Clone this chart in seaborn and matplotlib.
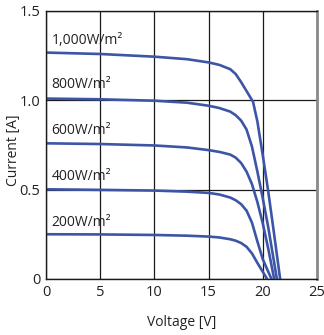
import matplotlib
matplotlib.use("Agg")
import matplotlib.pyplot as plt
import seaborn as sns
import pandas as pd

# ---- data ----
v_1000 = [0, 5, 10, 13, 15, 16, 17, 17.5, 18, 18.5, 19.1, 19.5, 20.0, 20.5, 21.0, 21.6]
i_1000 = [1.265, 1.257, 1.242, 1.228, 1.21, 1.196, 1.172, 1.145, 1.10, 1.05, 0.99, 0.88, 0.69, 0.49, 0.27, 0.0]

v_800 = [0, 5, 10, 13, 15, 16, 17, 17.5, 18, 18.5, 19.0, 19.5, 20.0, 20.5, 21.3]
i_800 = [1.008, 1.004, 0.996, 0.985, 0.968, 0.955, 0.935, 0.915, 0.885, 0.835, 0.74, 0.60, 0.45, 0.29, 0.0]

v_600 = [0, 5, 10, 13, 15, 16, 17, 17.5, 18, 18.5, 19.0, 19.5, 20.0, 20.5, 21.05]
i_600 = [0.758, 0.754, 0.746, 0.735, 0.72, 0.71, 0.695, 0.678, 0.648, 0.60, 0.53, 0.43, 0.31, 0.17, 0.0]

v_400 = [0, 5, 10, 13, 15, 16, 17, 17.5, 18, 18.5, 19.0, 19.5, 20.0, 20.8]
i_400 = [0.501, 0.498, 0.494, 0.488, 0.481, 0.472, 0.455, 0.44, 0.418, 0.382, 0.315, 0.21, 0.11, 0.0]

v_200 = [0, 5, 10, 13, 15, 16, 17, 17.5, 18, 18.5, 19.0, 19.5, 20.4]
i_200 = [0.25, 0.249, 0.246, 0.242, 0.237, 0.232, 0.222, 0.214, 0.201, 0.18, 0.143, 0.09, 0.0]

labels = ["1,000W/m²", "800W/m²", "600W/m²", "400W/m²", "200W/m²"]
label_y = [1.33, 1.085, 0.832, 0.575, 0.318]
x_ticks = [0, 5, 10, 15, 20, 25]
x_ticklabels = ["0", "5", "10", "15", "20", "25"]
y_ticks = [0, 0.5, 1.0, 1.5]
y_ticklabels = ["0", "0.5", "1.0", "1.5"]

series_v = [v_1000, v_800, v_600, v_400, v_200]
series_i = [i_1000, i_800, i_600, i_400, i_200]

frames = []
for lab, vv, ii in zip(labels, series_v, series_i):
    frames.append(pd.DataFrame({"Voltage": vv, "Current": ii, "Irradiance": lab}))
df = pd.concat(frames, ignore_index=True)

sns.set_style("white")
plt.rcParams["font.family"] = ["Open Sans", "DejaVu Sans"]

fig = plt.figure(figsize=(3.24, 3.35), dpi=100)
ax = fig.add_axes([46 / 324, 56 / 335, 271 / 324, 268.5 / 335])

line_color = "#3d55a6"
sns.lineplot(data=df, x="Voltage", y="Current", units="Irradiance", estimator=None,
             sort=False, color=line_color, linewidth=1.9, ax=ax, legend=False)

ax.set_xlim(0, 25)
ax.set_ylim(0, 1.5)
ax.set_xticks(x_ticks)
ax.set_xticklabels(x_ticklabels)
ax.set_yticks(y_ticks)
ax.set_yticklabels(y_ticklabels)
ax.tick_params(axis="both", length=0, labelsize=10.5, colors="#222222", pad=4)

ax.grid(True, color="#1a1a1a", linewidth=0.9)
ax.set_axisbelow(True)

for side in ["left", "bottom", "top"]:
    ax.spines[side].set_color("#1a1a1a")
    ax.spines[side].set_linewidth(1.0)
ax.spines["right"].set_color("#8a8a8a")
ax.spines["right"].set_linewidth(2.0)

ax.set_xlabel("Voltage [V]", fontsize=10, color="#222222")
ax.set_ylabel("Current [A]", fontsize=10, color="#222222")
ax.xaxis.set_label_coords(0.5, (279 - 322) / 268.5)
ax.yaxis.set_label_coords((13.5 - 46) / 271, (279 - 150) / 268.5)
ax.xaxis.label.set_va("center")
ax.yaxis.label.set_va("center")

for lab, yy in zip(labels, label_y):
    ax.text(0.5, yy, lab, fontsize=10, color="#222222", ha="left", va="center")

fig.savefig("out.png", dpi=100)
